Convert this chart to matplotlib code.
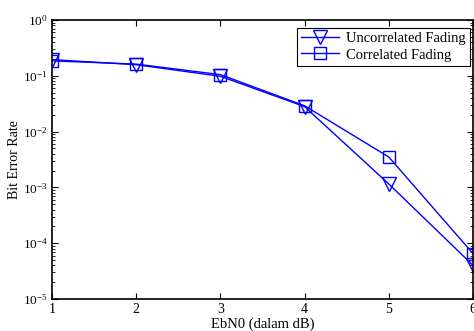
import matplotlib
matplotlib.use("Agg")
import matplotlib.pyplot as plt
from matplotlib.ticker import LogLocator, NullFormatter

ebno = [1, 2, 3, 4, 5, 6]
ber_uncorr = [0.195, 0.158, 0.098, 0.028, 0.00115, 4.0e-5]
ber_corr = [0.185, 0.162, 0.105, 0.029, 0.0035, 6.5e-5]

plt.rcParams["font.family"] = ["Liberation Serif", "DejaVu Serif"]
plt.rcParams["mathtext.fontset"] = "stix"

fig = plt.figure(figsize=(4.74, 3.31), dpi=100)
ax = fig.add_axes([0.1097, 0.0967, 0.8883, 0.8429])

ax.semilogy(ebno, ber_uncorr, color="blue", lw=1.0, marker="v", ms=10,
            mfc="none", mec="blue", mew=1.0, label="Uncorrelated Fading")
ax.semilogy(ebno, ber_corr, color="blue", lw=1.0, marker="s", ms=8,
            mfc="none", mec="blue", mew=1.0, label="Correlated Fading")

ax.set_xlim(1, 6)
ax.set_ylim(1e-5, 1)
ax.set_xticks(ebno)
ax.yaxis.set_major_locator(LogLocator(base=10, numticks=10))
ax.yaxis.set_minor_locator(LogLocator(base=10, subs=range(2, 10), numticks=10))
ax.yaxis.set_minor_formatter(NullFormatter())
ax.tick_params(which="both", direction="in", top=True, right=True)
ax.tick_params(axis="x", labelsize=10)
ax.tick_params(axis="y", labelsize=9.5)
ax.tick_params(which="major", length=4, pad=3)
ax.tick_params(which="minor", length=2)
for s in ax.spines.values():
    s.set_linewidth(1.2)

ax.set_xlabel("EbN0 (dalam dB)", fontsize=10.5, labelpad=1)
ax.set_ylabel("Bit Error Rate", fontsize=10, labelpad=1)

leg = ax.legend(loc="upper right", fontsize=10.5, fancybox=False, framealpha=1,
                edgecolor="black", borderpad=0.3, borderaxespad=0,
                handlelength=2.6, handletextpad=0.5, labelspacing=0.2,
                numpoints=1, bbox_to_anchor=(0.993, 0.972))
leg.get_frame().set_linewidth(0.8)

fig.savefig("out.png", dpi=100)
